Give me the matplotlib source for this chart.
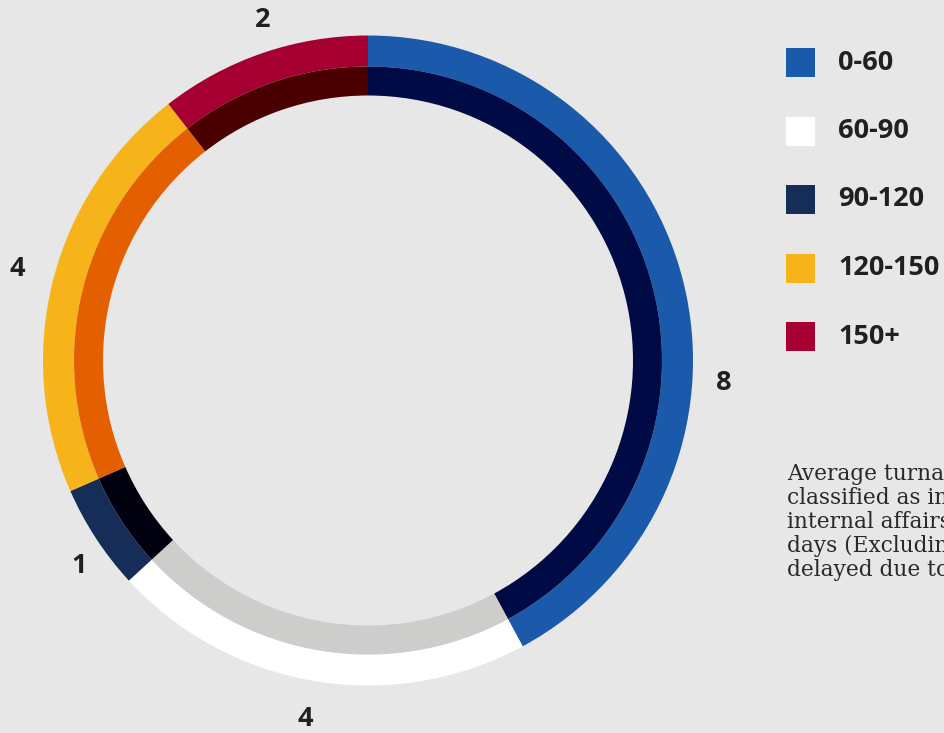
import matplotlib
matplotlib.use("Agg")
import matplotlib.pyplot as plt
import matplotlib.patches as mpatches

# ---- data ----
categories = ["0-60", "60-90", "90-120", "120-150", "150+"]
values = [8, 4, 1, 4, 2]
outer_colors = ["#1B5AAA", "#FFFFFF", "#162D57", "#F6B41A", "#A60032"]
inner_colors = ["#000A45", "#CDCDCB", "#00000F", "#E35F00", "#4A0000"]
value_labels = ["8", "4", "1", "4", "2"]
note_lines = [
    "Average turnaround time for cases",
    "classified as investigated by",
    "internal affairs was 120",
    "days (Excluding cases",
    "delayed due to litigation)",
]

BG = "#E6E7E6"
TXT = "#231F20"
W, H = 944, 733

fig = plt.figure(figsize=(W / 100, H / 100), dpi=100, facecolor=BG)
ax = fig.add_axes([0, 0, 1, 1])
ax.set_facecolor(BG)

cx, cy = 368, H - 360.5
ax.pie(values, colors=outer_colors, radius=325, center=(cx, cy), startangle=90,
       counterclock=False, frame=False,
       wedgeprops=dict(width=31, linewidth=0))
ax.pie(values, colors=inner_colors, radius=294, center=(cx, cy), startangle=90,
       counterclock=False, frame=False,
       wedgeprops=dict(width=29, linewidth=0))

ax.set_xlim(0, W)
ax.set_ylim(0, H)
ax.set_aspect("equal")
ax.axis("off")

lab_font = dict(family=["Open Sans", "DejaVu Sans"], weight="bold", fontsize=19.5, color=TXT)

# value labels (pixel positions from top-left)
label_pos = [(724, 383.5), (305, 719), (79, 566), (17, 269), (263, 20)]
for (x, y), t in zip(label_pos, value_labels):
    ax.text(x, H - y, t, ha="center", va="center", **lab_font)

# legend
sq = 29
y0 = 48
step = 68.5
for i, (c, name) in enumerate(zip(outer_colors, categories)):
    top = y0 + i * step
    ax.add_patch(mpatches.Rectangle((786, H - top - sq), sq, sq, facecolor=c,
                                    edgecolor="none"))
    ax.text(838, H - top - sq / 2, name, ha="left", va="center", **lab_font)

# note
for i, line in enumerate(note_lines):
    ax.text(787, H - (480 + i * 24), line, ha="left", va="baseline",
            family=["DejaVu Serif"], fontsize=15.6, color="#2B2A2A")

fig.savefig("out.png", dpi=100, facecolor=BG)
